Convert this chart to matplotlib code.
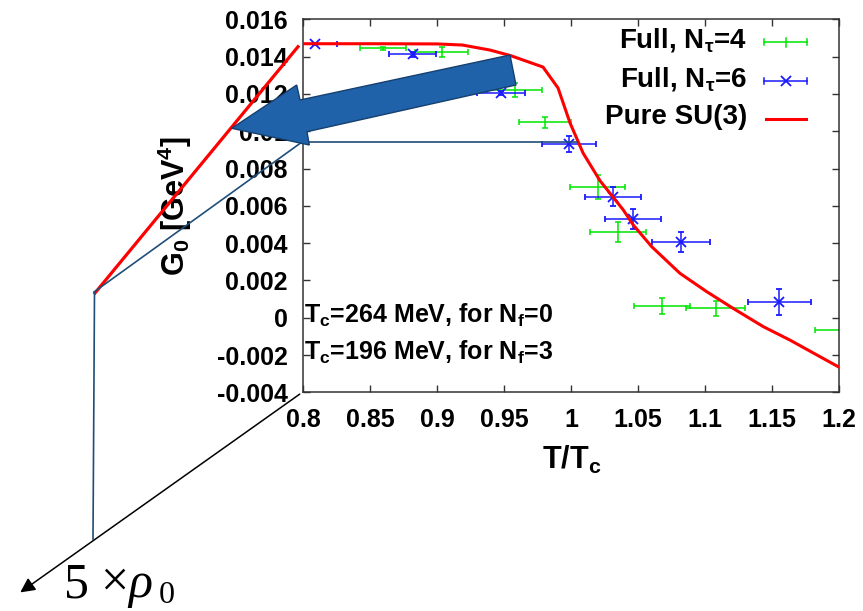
import numpy as np
import matplotlib
matplotlib.use("Agg")
import matplotlib.pyplot as plt
from matplotlib.patches import Polygon, FancyArrowPatch
from matplotlib.lines import Line2D
import matplotlib.ticker as ticker

plt.rcParams['font.family'] = ['Liberation Sans', 'DejaVu Sans']
plt.rcParams['font.weight'] = 'bold'
plt.rcParams['axes.labelweight'] = 'bold'
plt.rcParams['mathtext.fontset'] = 'custom'
plt.rcParams['mathtext.rm'] = 'Liberation Sans:bold'
plt.rcParams['mathtext.it'] = 'Liberation Sans:bold'
plt.rcParams['mathtext.bf'] = 'Liberation Sans:bold'

# Pure SU(3) curve
su3_t = [0.80, 0.85, 0.90, 0.919, 0.9396, 0.955, 0.9791, 0.9903, 0.9993, 1.009,
         1.0216, 1.039, 1.0465, 1.0602, 1.0813, 1.1012, 1.121, 1.1435, 1.1634, 1.1858, 1.2]
su3_g = [0.01469, 0.01469, 0.01468, 0.01462, 0.01435, 0.01405, 0.01344, 0.01232, 0.01044, 0.00883,
         0.00735, 0.00578, 0.00497, 0.00381, 0.00238, 0.00140, 0.00050, -0.00048, -0.00120, -0.00209,
         -0.00265]

# Full, N_tau=4
nt4_t = [0.8595, 0.9035, 0.958, 0.9806, 1.0201, 1.0353, 1.0681, 1.108, 1.205]
nt4_terr = [0.017, 0.020, 0.0205, 0.0194, 0.0205, 0.021, 0.021, 0.022, 0.023]
nt4_g = [0.01444, 0.01423, 0.01221, 0.01048, 0.00702, 0.00458, 0.00063, 0.00050, -0.00067]
nt4_gerr = [0.00008, 0.00027, 0.0004, 0.0003, 0.00064, 0.00054, 0.00045, 0.0004, 0.0003]

# Full, N_tau=6
nt6_t = [0.809, 0.8818, 0.9478, 0.9985, 1.0316, 1.046, 1.082, 1.1555]
nt6_terr = [0.016, 0.0177, 0.018, 0.0199, 0.021, 0.021, 0.0217, 0.0234]
nt6_g = [0.01466, 0.01412, 0.01203, 0.00931, 0.00649, 0.00529, 0.00404, 0.00083]
nt6_gerr = [0.00005, 0.00012, 0.0001, 0.00042, 0.00052, 0.00056, 0.00054, 0.0007]

legend_labels = [r'Full, N$_\tau$=4', r'Full, N$_\tau$=6', 'Pure SU(3)']
x_ticks = [0.8, 0.85, 0.9, 0.95, 1.0, 1.05, 1.1, 1.15, 1.2]
y_ticks = [-0.004, -0.002, 0.0, 0.002, 0.004, 0.006, 0.008, 0.010, 0.012, 0.014, 0.016]

W, H = 863, 611
fig = plt.figure(figsize=(W / 100, H / 100), dpi=100)


def px(x, y):
    # figure pixel (from top-left) -> figure fraction
    return (x / W, 1 - y / H)


ax = fig.add_axes([303 / W, 1 - 392.3 / H, (839 - 303) / W, (392.3 - 19.3) / H])

GREEN = '#00e600'
BLUE = '#1a1aff'
RED = '#ff0000'

ax.errorbar(nt4_t, nt4_g, xerr=nt4_terr, yerr=nt4_gerr, fmt='none', ecolor=GREEN,
            elinewidth=1.1, capsize=2, capthick=1.1, zorder=2)
ax.errorbar(nt6_t, nt6_g, xerr=nt6_terr, yerr=nt6_gerr, fmt='x', color=BLUE, ms=7, mew=1.3,
            elinewidth=1.1, capsize=2, capthick=1.1, zorder=3)
ax.plot(su3_t, su3_g, color=RED, lw=2.2, zorder=4)

ax.set_xlim(0.8, 1.2)
ax.set_ylim(-0.004, 0.016)
ax.set_xticks(x_ticks)
ax.set_yticks(y_ticks)
fmt = ticker.FuncFormatter(lambda v, _: '%g' % round(v, 6))
ax.xaxis.set_major_formatter(fmt)
ax.yaxis.set_major_formatter(fmt)
ax.tick_params(direction='in', length=5, width=1, top=True, right=True, labelsize=18,
               color='#333333')
ax.tick_params(axis='x', pad=11)
ax.tick_params(axis='y', pad=11)
for s in ax.spines.values():
    s.set_color('#333333')
    s.set_linewidth(1.1)

ax.set_xlabel(r'T/T$_c$', fontsize=22, va='center')
ax.xaxis.set_label_coords((572 - 303) / 536, (392.3 - 460) / 373)
ax.set_ylabel(r'G$_0$ [GeV$^4$]', fontsize=22, va='center')
ax.yaxis.set_label_coords((175 - 303) / 536, 0.5)

ax.text(0.002, (392.3 - 323) / 373, r'T$_c$=264 MeV, for N$_f$=0', transform=ax.transAxes,
        fontsize=18, ha='left', va='baseline')
ax.text(0.002, (392.3 - 360) / 373, r'T$_c$=196 MeV, for N$_f$=3', transform=ax.transAxes,
        fontsize=18, ha='left', va='baseline')

# legend drawn by hand, gnuplot style
rows_y = [42, 80.7, 119]
for lab, yy in zip(legend_labels, rows_y):
    fig.text(*px(747, yy - 2), lab, fontsize=20, ha='right', va='center')
tf = fig.transFigure
x0, x1, xm = 764, 807, 785.7
for yy, col in zip(rows_y[:2], [GREEN, BLUE]):
    fig.add_artist(Line2D([x0 / W, x1 / W], [1 - yy / H] * 2, transform=tf, color=col, lw=1.1))
    for xc in (x0, x1):
        fig.add_artist(Line2D([xc / W] * 2, [1 - (yy - 3) / H, 1 - (yy + 3) / H],
                              transform=tf, color=col, lw=1.1))
fig.add_artist(Line2D([xm / W] * 2, [1 - 38 / H, 1 - 46.5 / H], transform=tf, color=GREEN, lw=1.1))
fig.add_artist(Line2D([xm / W], [1 - 80.7 / H], transform=tf, color=BLUE, marker='x', ms=7, mew=1.3))
fig.add_artist(Line2D([766 / W, 806 / W], [1 - 119 / H] * 2, transform=tf, color=RED, lw=2.2))

# overlay sketch: lines, arrows, density label
NAVY = '#1f4e79'
fig.add_artist(Line2D([95 / W, 298 / W], [1 - 293 / H, 1 - 46.7 / H], transform=tf,
                      color=RED, lw=2.3, zorder=5))
fig.add_artist(Line2D([94 / W, 302 / W, 577 / W], [1 - 292 / H, 1 - 142 / H, 1 - 142 / H],
                      transform=tf, color=NAVY, lw=1.2, zorder=5))
fig.add_artist(Line2D([94.5 / W, 93 / W], [1 - 292 / H, 1 - 539 / H], transform=tf,
                      color=NAVY, lw=1.2, zorder=5))
fig.add_artist(FancyArrowPatch(px(302, 392.5), px(18, 594), transform=tf, arrowstyle='-|>',
                               mutation_scale=22, color='black', lw=1.1, zorder=5))

arrow_pts = [(510, 55), (516, 85), (307, 131.7), (309.3, 145), (231.7, 128.3),
             (296.7, 85), (300, 100)]
fig.add_artist(Polygon([px(a, b) for a, b in arrow_pts], closed=True, transform=tf,
                       facecolor='#1f62aa', edgecolor='#16406e', lw=1.0, zorder=6))

serif = ['Liberation Serif', 'DejaVu Serif']
fig.text(*px(64, 597), '5', fontsize=36, ha='left', va='baseline',
         family=serif, fontweight='normal')
fig.text(*px(100, 596), '\u00d7', fontsize=36, ha='left', va='baseline',
         family=serif, fontweight='normal')
fig.text(*px(128, 597), '\u03c1', fontsize=36, ha='left', va='baseline',
         family=serif, fontweight='normal', style='italic')
fig.text(*px(159, 603), '0', fontsize=23, ha='left', va='baseline',
         family=serif, fontweight='normal')

fig.savefig('out.png', dpi=100)
